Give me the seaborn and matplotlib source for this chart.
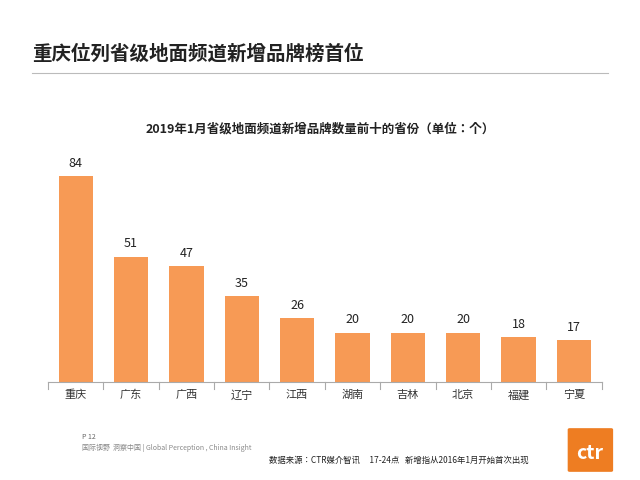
import matplotlib
matplotlib.use("Agg")
import matplotlib.pyplot as plt
from matplotlib import font_manager
import seaborn as sns
import pandas as pd
from matplotlib.patches import FancyBboxPatch

cjk = sorted({f.name for f in font_manager.fontManager.ttflist if "CJK" in f.name})
fams = [n for n in ["Noto Sans CJK SC", "Noto Sans CJK JP", "Noto Sans CJK TC", "Noto Sans CJK KR"] if n in cjk] + cjk + ["DejaVu Sans"]
plt.rcParams["font.family"] = fams

provinces = ["重庆", "广东", "广西", "辽宁", "江西", "湖南", "吉林", "北京", "福建", "宁夏"]
counts = [84, 51, 47, 35, 26, 20, 20, 20, 18, 17]
df = pd.DataFrame({"province": provinces, "count": counts})

fig = plt.figure(figsize=(6.4, 4.8), dpi=100)
fig.patch.set_facecolor("white")
fig.text(0.05, 0.875, "重庆位列省级地面频道新增品牌榜首位", fontsize=14, fontweight="bold", color="#222222")
fig.add_artist(plt.Line2D([0.05, 0.95], [0.848, 0.848], color="#bbbbbb", lw=0.8))
fig.text(0.5, 0.725, "2019年1月省级地面频道新增品牌数量前十的省份（单位：个）", fontsize=9, fontweight="bold", ha="center", color="#222222")

ax = fig.add_axes([0.075, 0.205, 0.865, 0.485])
sns.barplot(data=df, x="province", y="count", color="#f79a55", width=0.62, ax=ax, saturation=1)
for p, v in zip(ax.patches, counts):
    ax.text(p.get_x() + p.get_width() / 2, v + 2.5, str(v), ha="center", va="bottom", fontsize=9, color="#222222")
ax.set_ylim(0, 95)
ax.set_yticks([])
ax.set_xlabel("")
ax.set_ylabel("")
for s in ["top", "right", "left"]:
    ax.spines[s].set_visible(False)
ax.spines["bottom"].set_color("#aaaaaa")
ax.tick_params(axis="x", length=0, labelsize=8, colors="#333333", pad=6)
for i in range(len(provinces) + 1):
    ax.plot([i - 0.5, i - 0.5], [0, -3], color="#aaaaaa", lw=0.8, clip_on=False)
ax.set_xlim(-0.5, len(provinces) - 0.5)

fig.text(0.128, 0.085, "P 12", fontsize=5, color="#666666")
fig.text(0.128, 0.063, "国际视野  洞察中国 | Global Perception , China Insight", fontsize=5, color="#888888")
fig.text(0.42, 0.035, "数据来源：CTR媒介智讯     17-24点   新增指从2016年1月开始首次出现", fontsize=6, color="#222222")
fig.add_artist(FancyBboxPatch((0.89, 0.02), 0.065, 0.085, boxstyle="round,pad=0.003", fc="#ee7d22", ec="none", transform=fig.transFigure))
fig.text(0.922, 0.055, "ctr", fontsize=14, fontweight="bold", color="white", ha="center", va="center")
fig.savefig("out.png", dpi=100)
